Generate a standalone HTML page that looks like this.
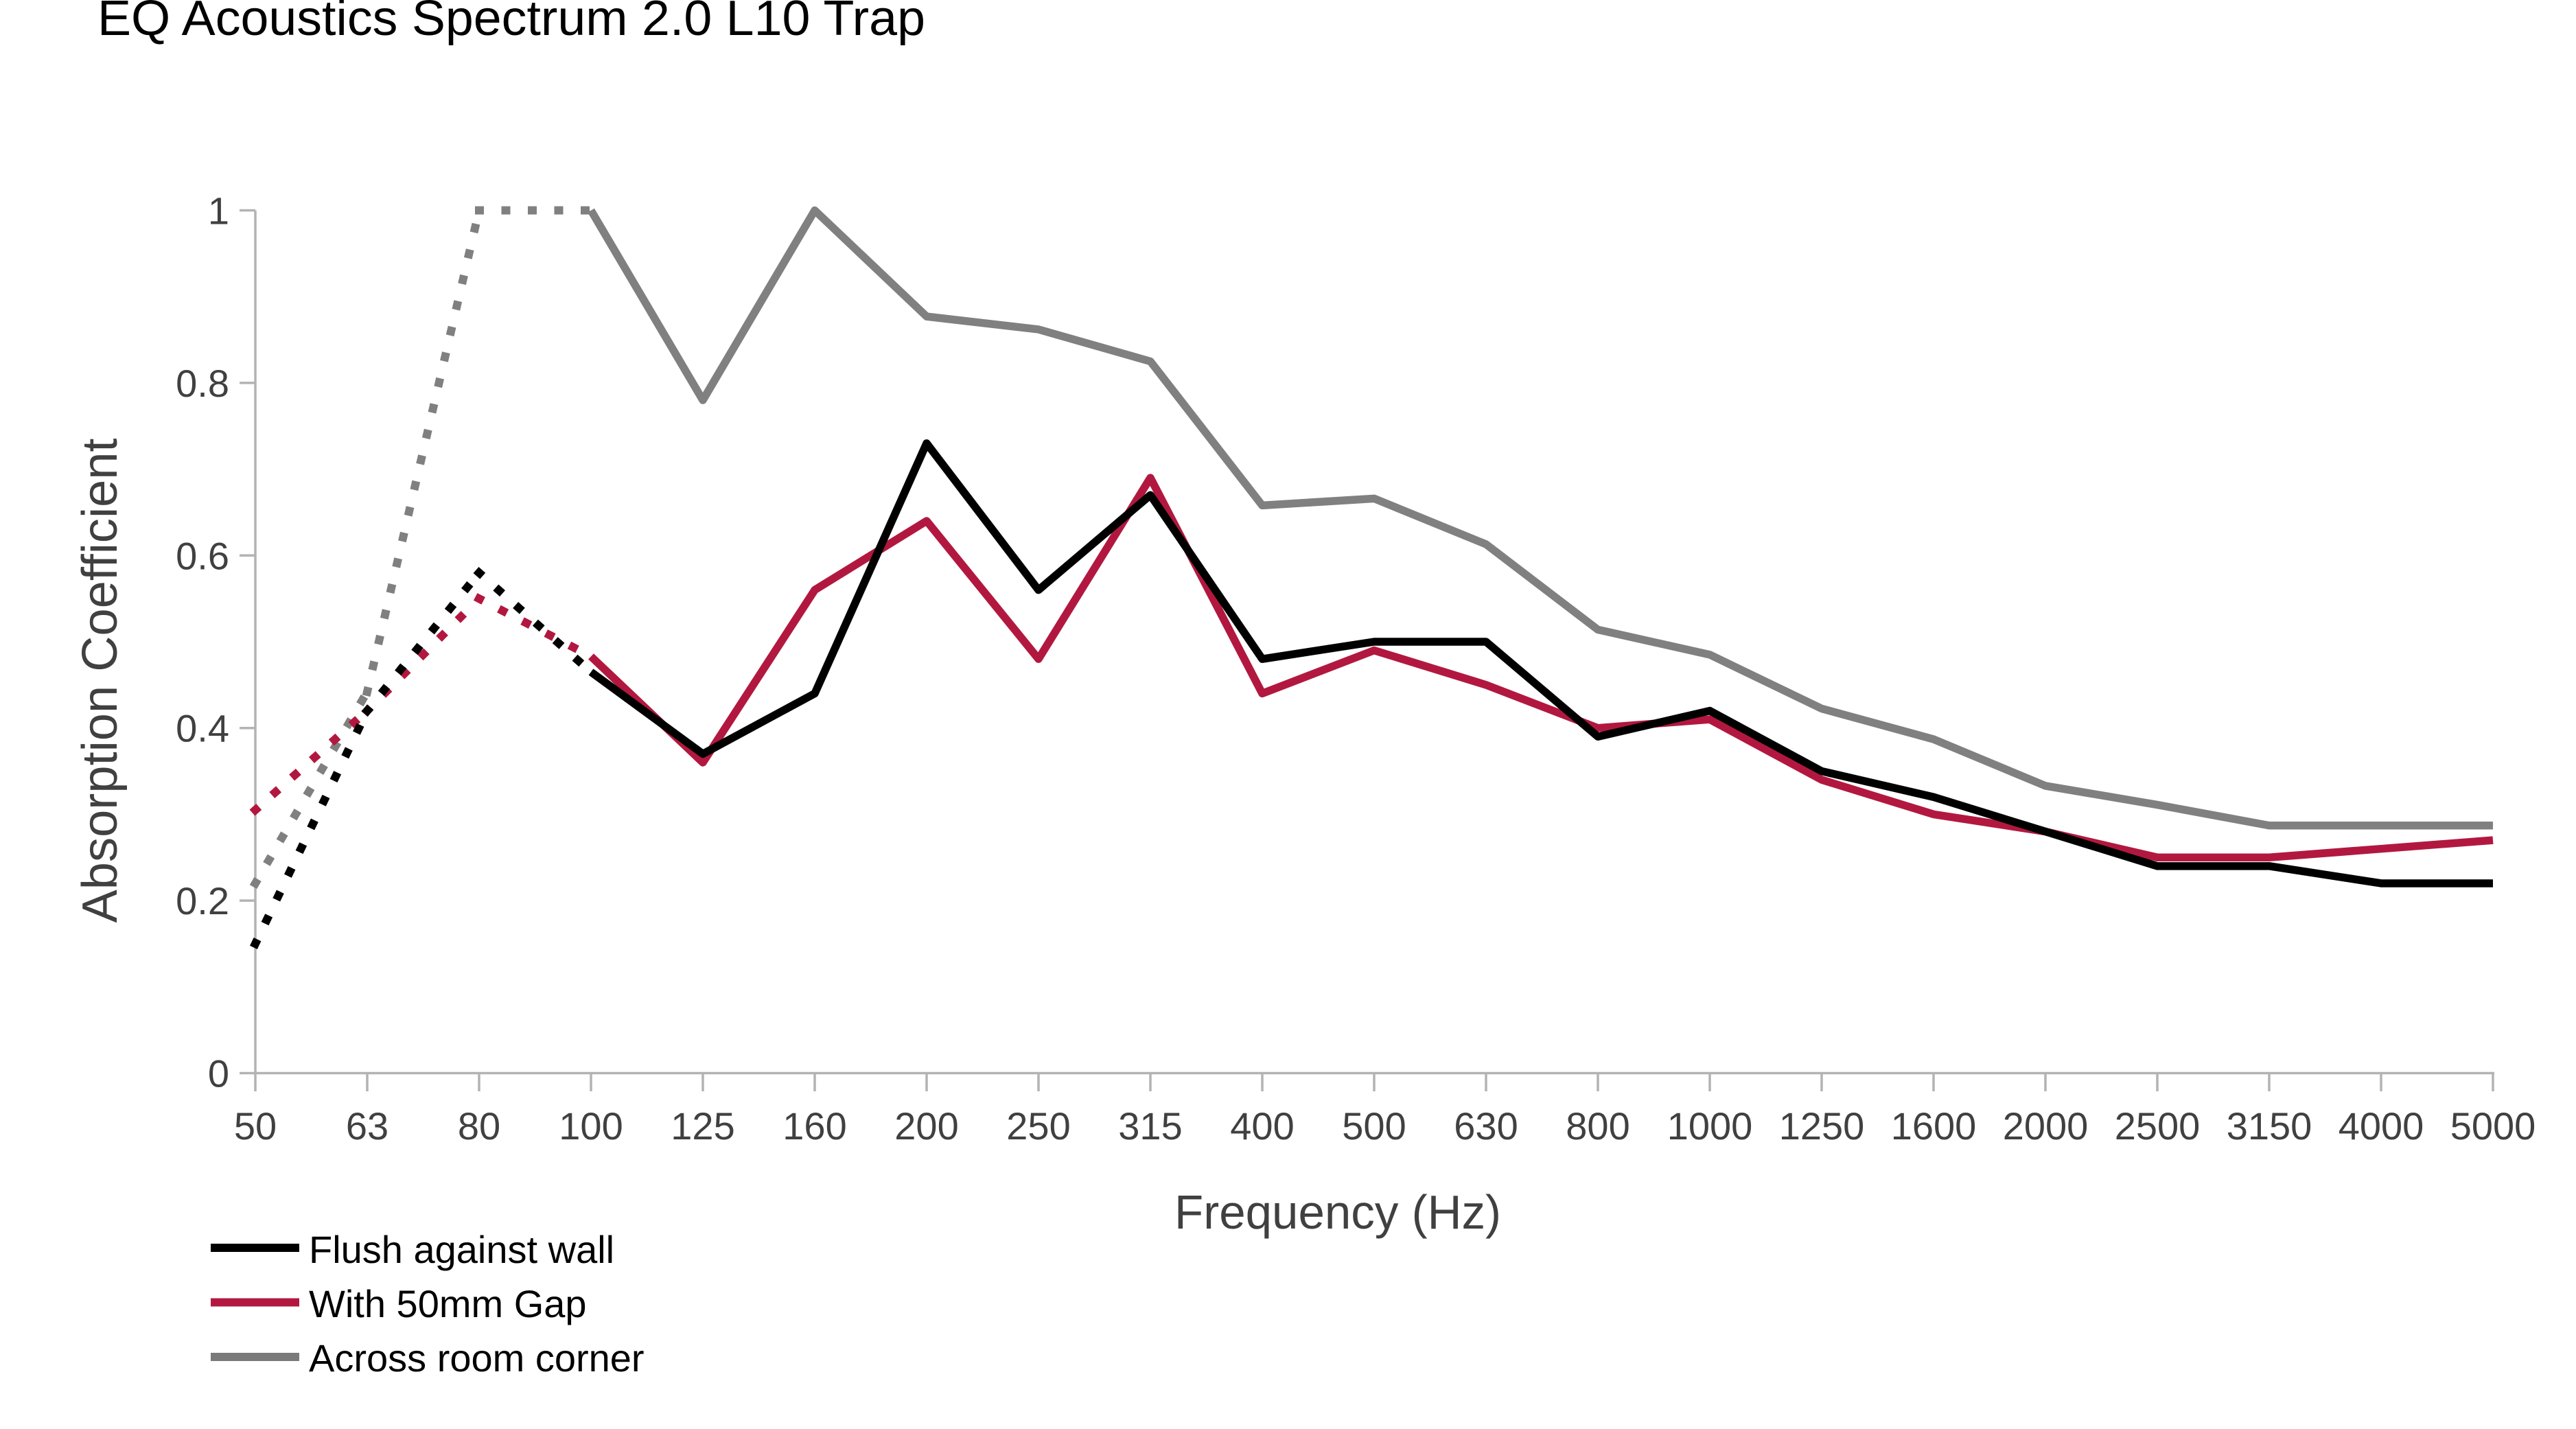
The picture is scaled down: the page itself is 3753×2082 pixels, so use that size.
<!DOCTYPE html>
<html>
<head>
<meta charset="utf-8">
<style>
  html, body { margin: 0; padding: 0; background: #ffffff; }
  body { width: 3753px; height: 2082px; overflow: hidden; }
  svg { display: block; }
  text { font-family: "Liberation Sans", Arial, Helvetica, sans-serif; }
</style>
</head>
<body>
<svg width="3753" height="2082" viewBox="0 0 3753 2082" xmlns="http://www.w3.org/2000/svg">
  <rect x="0" y="0" width="3753" height="2082" fill="#ffffff"/>

  <!-- Title -->
  <text x="142" y="51" font-size="72" fill="#000000" textLength="1206" lengthAdjust="spacingAndGlyphs">EQ Acoustics Spectrum 2.0 L10 Trap</text>

  <!-- Axes -->
  <g stroke="#b3b3b3" stroke-width="3.5" fill="none">
    <line x1="372" y1="306.5" x2="372" y2="1565"/>
    <line x1="370" y1="1563.5" x2="3634" y2="1563.5"/>
    <!-- y ticks -->
    <line x1="349" y1="1563.5" x2="372" y2="1563.5"/>
    <line x1="349" y1="1312.1" x2="372" y2="1312.1"/>
    <line x1="349" y1="1060.7" x2="372" y2="1060.7"/>
    <line x1="349" y1="809.3" x2="372" y2="809.3"/>
    <line x1="349" y1="557.9" x2="372" y2="557.9"/>
    <line x1="349" y1="306.5" x2="372" y2="306.5"/>
    <!-- x ticks -->
    <line x1="372" y1="1563.5" x2="372" y2="1590"/>
    <line x1="535" y1="1563.5" x2="535" y2="1590"/>
    <line x1="698" y1="1563.5" x2="698" y2="1590"/>
    <line x1="861" y1="1563.5" x2="861" y2="1590"/>
    <line x1="1024" y1="1563.5" x2="1024" y2="1590"/>
    <line x1="1187" y1="1563.5" x2="1187" y2="1590"/>
    <line x1="1350" y1="1563.5" x2="1350" y2="1590"/>
    <line x1="1513" y1="1563.5" x2="1513" y2="1590"/>
    <line x1="1676" y1="1563.5" x2="1676" y2="1590"/>
    <line x1="1839" y1="1563.5" x2="1839" y2="1590"/>
    <line x1="2002" y1="1563.5" x2="2002" y2="1590"/>
    <line x1="2165" y1="1563.5" x2="2165" y2="1590"/>
    <line x1="2328" y1="1563.5" x2="2328" y2="1590"/>
    <line x1="2491" y1="1563.5" x2="2491" y2="1590"/>
    <line x1="2654" y1="1563.5" x2="2654" y2="1590"/>
    <line x1="2817" y1="1563.5" x2="2817" y2="1590"/>
    <line x1="2980" y1="1563.5" x2="2980" y2="1590"/>
    <line x1="3143" y1="1563.5" x2="3143" y2="1590"/>
    <line x1="3306" y1="1563.5" x2="3306" y2="1590"/>
    <line x1="3469" y1="1563.5" x2="3469" y2="1590"/>
    <line x1="3632" y1="1563.5" x2="3632" y2="1590"/>
  </g>

  <!-- Y tick labels -->
  <g font-size="56" fill="#404040" text-anchor="end">
    <text x="334" y="1583.5">0</text>
    <text x="334" y="1332.1">0.2</text>
    <text x="334" y="1080.7">0.4</text>
    <text x="334" y="829.3">0.6</text>
    <text x="334" y="577.9">0.8</text>
    <text x="334" y="326.5">1</text>
  </g>

  <!-- X tick labels -->
  <g font-size="56" fill="#404040" text-anchor="middle">
    <text x="372" y="1660">50</text>
    <text x="535" y="1660">63</text>
    <text x="698" y="1660">80</text>
    <text x="861" y="1660">100</text>
    <text x="1024" y="1660">125</text>
    <text x="1187" y="1660">160</text>
    <text x="1350" y="1660">200</text>
    <text x="1513" y="1660">250</text>
    <text x="1676" y="1660">315</text>
    <text x="1839" y="1660">400</text>
    <text x="2002" y="1660">500</text>
    <text x="2165" y="1660">630</text>
    <text x="2328" y="1660">800</text>
    <text x="2491" y="1660">1000</text>
    <text x="2654" y="1660">1250</text>
    <text x="2817" y="1660">1600</text>
    <text x="2980" y="1660">2000</text>
    <text x="3143" y="1660">2500</text>
    <text x="3306" y="1660">3150</text>
    <text x="3469" y="1660">4000</text>
    <text x="3632" y="1660">5000</text>
  </g>

  <!-- Axis titles -->
  <text x="1711" y="1790" font-size="70" fill="#404040" textLength="476" lengthAdjust="spacingAndGlyphs">Frequency (Hz)</text>
  <text transform="translate(170,991.5) rotate(-90)" x="0" y="0" font-size="72" fill="#404040" text-anchor="middle" textLength="706" lengthAdjust="spacingAndGlyphs">Absorption Coefficient</text>

  <!-- Dotted segments (50-100 Hz) -->
  <g fill="none" stroke-width="12" stroke-linecap="square" stroke-dasharray="1 37.5">
    <!-- Gray -->
    <line x1="372" y1="1286.96" x2="535" y2="1007.91" stroke="#808080"/>
    <line x1="535" y1="1007.91" x2="698" y2="306.5" stroke="#808080"/>
    <line x1="698" y1="306.5" x2="861" y2="306.5" stroke="#808080"/>
    <!-- Red -->
    <line x1="372" y1="1180.11" x2="535" y2="1035.56" stroke="#b2183f"/>
    <line x1="535" y1="1035.56" x2="698" y2="872.15" stroke="#b2183f"/>
    <line x1="698" y1="872.15" x2="861" y2="956.37" stroke="#b2183f"/>
    <!-- Black -->
    <line x1="372" y1="1374.95" x2="535" y2="1035.56" stroke="#000000"/>
    <line x1="535" y1="1035.56" x2="698" y2="834.44" stroke="#000000"/>
    <line x1="698" y1="834.44" x2="861" y2="979.0" stroke="#000000"/>
  </g>

  <!-- Solid series -->
  <g fill="none" stroke-width="11.5" stroke-linejoin="round" stroke-linecap="butt">
    <polyline stroke="#808080" points="861,306.5 1024,583.04 1187,306.5 1350,461.11 1513,479.97 1676,526.47 1839,736.39 2002,726.34 2165,792.96 2328,917.4 2491,953.85 2654,1032.42 2817,1077.04 2980,1144.92 3143,1172.57 3306,1202.74 3469,1202.74 3632,1202.74"/>
    <polyline stroke="#b2183f" points="861,956.37 1024,1110.98 1187,859.58 1350,759.02 1513,960.14 1676,696.17 1839,1010.42 2002,947.57 2165,997.85 2328,1060.7 2491,1048.13 2654,1136.12 2817,1186.4 2980,1211.54 3143,1249.25 3306,1249.25 3469,1236.68 3632,1224.11"/>
    <polyline stroke="#000000" points="861,979.0 1024,1098.41 1187,1010.42 1350,645.89 1513,859.58 1676,721.31 1839,960.14 2002,935 2165,935 2328,1073.27 2491,1035.56 2654,1123.55 2817,1161.26 2980,1211.54 3143,1261.82 3306,1261.82 3469,1286.96 3632,1286.96"/>
  </g>

  <!-- Legend -->
  <g stroke-width="12">
    <line x1="307" y1="1818" x2="436" y2="1818" stroke="#000000"/>
    <line x1="307" y1="1897.5" x2="436" y2="1897.5" stroke="#b2183f"/>
    <line x1="307" y1="1977" x2="436" y2="1977" stroke="#7a7a7a"/>
  </g>
  <g font-size="56" fill="#000000">
    <text x="450" y="1840">Flush against wall</text>
    <text x="450" y="1919">With 50mm Gap</text>
    <text x="450" y="1998">Across room corner</text>
  </g>
</svg>
</body>
</html>
